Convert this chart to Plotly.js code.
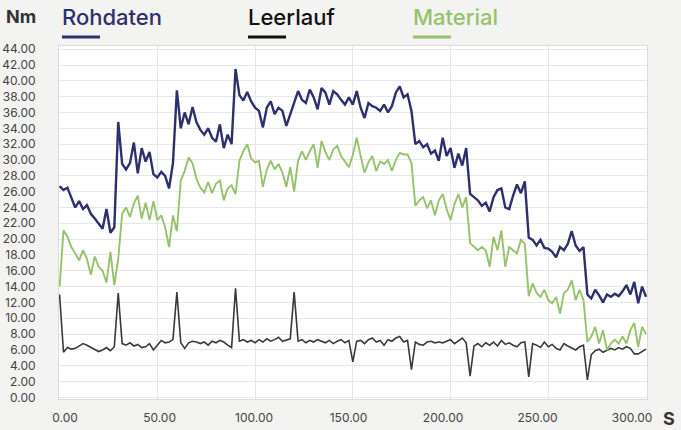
<!DOCTYPE html>
<html>
<head>
<meta charset="utf-8">
<script src="https://cdn.plot.ly/plotly-3.0.1.min.js"></script>
<style>
html,body{margin:0;padding:0;background:#f3f3f1;}
#chart{width:681px;height:430px;}
</style>
</head>
<body>
<div id="chart"></div>
<script>
// Time axis: samples every 2 s starting at 0 s
const timeStart = 0;
const timeStep = 2;

const seriesNames = ["Rohdaten", "Leerlauf", "Material"];
const unitY = "Nm";
const unitX = "S";

// Rohdaten (Nm), t = 0..300 s
const rohdaten = [
  26.7, 26.2, 26.5, 25.3, 24.0, 24.8, 23.8, 24.3, 23.2, 22.6, 22.0, 21.3, 23.8, 20.8, 21.5,
  34.8, 29.5, 28.8, 29.6, 32.2, 28.3, 31.5, 29.8, 31.0, 28.2, 27.8, 28.5, 28.0, 26.4, 29.6,
  38.8, 34.0, 36.0, 34.5, 36.7, 34.8, 33.8, 33.2, 34.0, 32.8, 32.3, 34.5, 31.5, 33.2, 32.0,
  41.5, 38.2, 37.5, 38.6, 37.4, 36.6, 36.2, 34.1, 36.6, 37.4, 35.8, 36.6, 36.2, 34.3, 35.8,
  37.0, 38.7, 37.6, 37.2, 38.9, 37.9, 36.4, 39.1, 38.5, 37.0, 38.7, 38.3, 37.6, 37.0, 37.9,
  37.0, 38.7, 36.6, 35.3, 37.2, 36.8, 36.6, 36.2, 37.0, 36.0, 36.8, 38.5, 39.3, 37.9, 38.3,
  36.2, 32.0, 32.4, 31.6, 32.0, 30.8, 31.2, 29.9, 32.8, 30.5, 31.5, 29.0, 30.8, 29.3, 31.5,
  25.7, 25.3, 24.9, 24.2, 24.6, 23.5, 25.3, 26.2, 26.4, 24.0, 23.8, 25.5, 26.9, 25.8, 27.3,
  20.2, 19.9, 19.2, 19.9, 18.9, 18.8, 18.4, 17.7, 19.0, 18.6, 19.4, 21.0, 19.2, 18.5, 19.0,
  13.0, 12.5, 13.6, 12.9, 12.0, 13.0, 12.7, 13.1, 12.8, 13.4, 14.2, 13.0, 14.6, 11.9, 14.0,
  12.7
];

// Leerlauf (Nm)
const leerlauf = [
  13.0, 5.7, 6.3, 6.1, 6.2, 6.5, 6.8, 6.6, 6.3, 6.0, 5.8, 6.0, 6.3, 5.9, 6.4,
  13.2, 6.8, 6.6, 6.9, 6.5, 6.7, 6.3, 6.4, 6.8, 6.0, 6.6, 7.2, 6.9, 7.0, 7.3,
  13.3, 6.9, 6.2, 6.9, 7.1, 7.0, 6.8, 7.0, 6.6, 7.1, 6.9, 7.2, 7.0, 6.6, 6.3,
  13.8, 7.1, 7.3, 7.0, 7.2, 6.9, 7.3, 7.0, 7.4, 7.1, 7.3, 7.6, 7.1, 7.3, 7.4,
  13.3, 7.1, 7.3, 6.9, 7.2, 7.0, 7.3, 7.1, 6.9, 7.2, 6.8, 7.1, 7.3, 6.9, 7.2,
  4.5, 7.1, 7.2, 6.8, 7.3, 7.5, 7.0, 7.2, 6.6, 7.3, 7.1, 7.5, 7.7, 7.0, 7.2,
  3.5, 7.0, 6.7, 6.6, 7.0, 7.1, 6.9, 7.0, 6.9, 7.1, 7.3, 6.8, 7.2, 7.5, 6.9,
  2.7, 6.5, 6.8, 6.4, 6.9, 6.6, 7.0, 6.5, 7.2, 6.7, 6.9, 6.6, 6.4, 6.9, 7.0,
  2.6, 6.8, 6.6, 6.3, 7.0, 6.4, 6.7, 6.2, 6.0, 6.8, 6.5, 6.2, 6.0, 6.4, 6.6,
  2.2, 5.4, 5.9, 6.1, 5.7, 5.9, 6.2, 6.0, 6.3, 6.1, 6.4, 6.2, 5.5, 5.5, 5.8,
  6.1
];

// Material (Nm)
const material = [
  14.0, 21.1, 20.3, 19.0, 18.2, 17.3, 18.6, 17.5, 15.5, 17.8, 16.5, 16.0, 14.5, 18.4, 14.2,
  17.5, 23.2, 24.0, 22.8, 24.5, 25.5, 22.6, 24.6, 22.4, 24.8, 22.4, 23.0, 21.5, 19.0, 23.0,
  21.0, 27.4, 28.6, 30.3, 29.6, 27.6, 26.5, 25.9, 27.2, 25.8, 27.0, 27.4, 24.9, 26.4, 26.8,
  25.7, 29.9, 31.1, 32.0, 30.2, 29.7, 29.9, 26.6, 28.8, 29.9, 28.8, 29.5, 28.4, 26.6, 29.1,
  26.0, 29.9, 31.1, 30.0, 31.1, 32.0, 29.0, 32.4, 31.0, 30.0, 31.3, 31.8, 30.5, 29.8, 29.1,
  30.6, 32.8, 30.5, 28.4, 29.7, 30.5, 28.6, 29.8, 29.5, 30.0, 28.6, 30.0, 30.9, 30.7, 30.7,
  29.6, 24.2, 24.9, 25.3, 23.9, 24.9, 23.0, 24.9, 25.7, 23.8, 22.4, 24.4, 25.7, 24.0, 25.3,
  19.5, 19.0, 18.6, 19.0, 18.6, 16.5, 20.3, 18.6, 21.1, 16.5, 19.0, 18.6, 18.2, 19.9, 19.4,
  12.8, 14.4, 13.2, 12.7, 13.6, 12.3, 11.9, 12.7, 10.6, 13.2, 13.6, 14.8, 12.3, 13.6, 12.3,
  7.0, 7.7, 8.9, 6.8, 8.5, 6.0, 6.8, 7.3, 6.8, 7.7, 6.8, 8.5, 9.4, 6.4, 8.9,
  8.0
];

const colors = {Rohdaten: "#2e306d", Leerlauf: "#3a3a3a", Material: "#95c26a"};

// plot-area geometry (px)
const W = 681, H = 430;
const M = {l: 59, r: 34, t: 46, b: 31};
const pw = W - M.l - M.r, ph = H - M.t - M.b;
const px = x => (x - M.l) / pw;
const py = y => (H - M.b - y) / ph;

const traces = [
  {name: "Leerlauf", y: leerlauf, color: colors.Leerlauf, width: 1.6},
  {name: "Material", y: material, color: colors.Material, width: 1.9},
  {name: "Rohdaten", y: rohdaten, color: colors.Rohdaten, width: 2.4}
].map(s => ({
  type: "scatter", mode: "lines", name: s.name,
  x0: timeStart, dx: timeStep, y: s.y,
  line: {color: s.color, width: s.width, shape: "linear"},
  showlegend: false, hoverinfo: "skip"
}));
// empty trace that carries the (slightly compressed) tick-label axis of the original
traces.push({type: "scatter", mode: "lines", x: [], y: [], xaxis: "x2", showlegend: false, hoverinfo: "skip"});

const font = "Inter, 'Open Sans', sans-serif";

// legend: text + short underline
const legendItems = [
  {name: "Rohdaten", x: 62, color: colors.Rohdaten},
  {name: "Leerlauf", x: 248, color: "#111111"},
  {name: "Material", x: 413, color: colors.Material}
];

const annotations = [
  {text: unitY, xref: "paper", yref: "paper", x: px(4), y: py(17), xanchor: "left", yanchor: "middle",
   showarrow: false, font: {family: font, size: 18, color: "#333", weight: 700}},
  {text: unitX, xref: "paper", yref: "paper", x: px(661), y: py(418), xanchor: "left", yanchor: "middle",
   showarrow: false, font: {family: font, size: 18, color: "#333", weight: 700}}
];
const shapes = [];
legendItems.forEach(it => {
  annotations.push({text: it.name, xref: "paper", yref: "paper", x: px(it.x - 2), y: py(17),
    xanchor: "left", yanchor: "middle", showarrow: false,
    font: {family: font, size: 22, color: it.color, weight: 500}});
  shapes.push({type: "line", xref: "paper", yref: "paper", x0: px(it.x), x1: px(it.x + 38),
    y0: py(37), y1: py(37), line: {color: it.color, width: 3}});
});

const layout = {
  width: W, height: H,
  margin: M,
  paper_bgcolor: "#f3f3f1",
  plot_bgcolor: "#ffffff",
  font: {family: font, size: 12, color: "#444"},
  xaxis: {
    range: [-0.3, 300.5], tick0: 0, dtick: 50,
    showgrid: true, gridcolor: "#e6e6e6", gridwidth: 1,
    zeroline: false, showline: true, linecolor: "#dcdcdc", mirror: true,
    ticks: "", showticklabels: false
  },
  xaxis2: {
    overlaying: "x", anchor: "y", side: "bottom",
    range: [-3.2, 307.9], tick0: 0, dtick: 50, tickformat: ".2f",
    showgrid: false, zeroline: false, showline: false,
    ticks: "", ticklabelstandoff: 10,
    tickfont: {family: font, size: 12, color: "#444"}
  },
  yaxis: {
    range: [-0.2, 44.4], tick0: 0, dtick: 2, tickformat: ".2f",
    showgrid: true, gridcolor: "#e8e8e8", gridwidth: 1,
    zeroline: false, showline: true, linecolor: "#dcdcdc", mirror: true,
    ticks: "", ticklabelstandoff: 20,
    tickfont: {family: font, size: 12, color: "#444"}
  },
  annotations: annotations,
  shapes: shapes
};

Plotly.newPlot("chart", traces, layout, {displayModeBar: false, staticPlot: true});
</script>
</body>
</html>
